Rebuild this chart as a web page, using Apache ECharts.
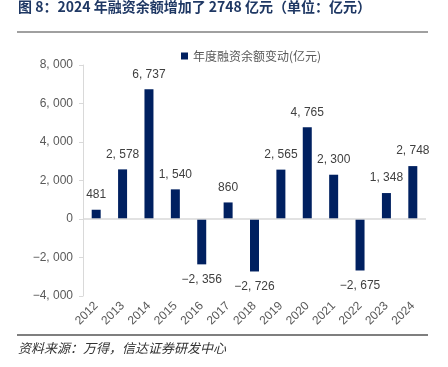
<!DOCTYPE html>
<html>
<head>
<meta charset="utf-8">
<script src="https://cdn.jsdelivr.net/npm/echarts@6/dist/echarts.min.js"></script>
<style>
html, body { margin: 0; padding: 0; background: #fff; }
#chart { width: 448px; height: 367px; }
</style>
</head>
<body>
<div id="chart"></div>
<script>
var years = ['2012', '2013', '2014', '2015', '2016', '2017', '2018', '2019', '2020', '2021', '2022', '2023', '2024'];
var changes = [481, 2578, 6737, 1540, -2356, 860, -2726, 2565, 4765, 2300, -2675, 1348, 2748];
var yTicks = [-4000, 8000, 2000];

function fmt(v) {
    var s = Math.abs(v).toString();
    if (s.length > 3) {
        s = s.slice(0, s.length - 3) + ', ' + s.slice(s.length - 3);
    }
    return (v < 0 ? '\u2212' : '') + s;
}

var chart = echarts.init(document.getElementById('chart'));
var font = '"Liberation Sans", "Noto Sans CJK SC", sans-serif';

option = {
    animation: false,
    textStyle: { fontFamily: font },
    grid: { left: 83, right: 22, top: 65, bottom: 71 },
    legend: {
        data: ['年度融资余额变动(亿元)'],
        left: 176,
        top: 45,
        icon: 'rect',
        itemWidth: 7,
        itemHeight: 7,
        itemGap: 4,
        textStyle: { color: '#595959', fontSize: 12, fontFamily: '"Noto Sans CJK SC", sans-serif' }
    },
    xAxis: {
        type: 'category',
        data: years,
        axisLine: { show: false, onZero: false },
        axisTick: { show: false },
        axisLabel: { rotate: 45, color: '#595959', fontSize: 12, margin: 8 }
    },
    yAxis: {
        type: 'value',
        min: yTicks[0],
        max: yTicks[1],
        interval: yTicks[2],
        axisLine: { show: true, lineStyle: { color: '#d9d9d9' } },
        axisTick: { show: true, length: 4, lineStyle: { color: '#d9d9d9' } },
        splitLine: { show: false },
        axisLabel: {
            color: '#595959', fontSize: 12, margin: 10,
            formatter: function (v) { return fmt(v); }
        }
    },
    series: [
        {
            name: '年度融资余额变动(亿元)',
            type: 'bar',
            data: changes.map(function (v) {
                return {
                    value: v,
                    label: { position: v < 0 ? 'bottom' : 'top' }
                };
            }),
            barWidth: 9,
            itemStyle: { color: '#002060' },
            label: {
                show: true,
                distance: 9,
                color: '#404040',
                fontSize: 12,
                formatter: function (p) { return fmt(p.value); }
            },
            markLine: {
                silent: true,
                symbol: 'none',
                label: { show: false },
                lineStyle: { color: '#d9d9d9', type: 'solid', width: 1.5 },
                data: [{ yAxis: 0 }]
            }
        }
    ],
    graphic: [
        {
            type: 'text', left: 18, top: 0,
            style: {
                text: '图 8：2024 年融资余额增加了 2748 亿元（单位：亿元）',
                fill: '#1f3864',
                font: 'bold 14px "Noto Sans CJK SC", sans-serif'
            }
        },
        {
            type: 'line', shape: { x1: 17, y1: 32, x2: 428, y2: 32 },
            style: { stroke: '#a0a0a0', lineWidth: 2 }
        },
        {
            type: 'line', shape: { x1: 17, y1: 335, x2: 428, y2: 335 },
            style: { stroke: '#555555', lineWidth: 1.5 }
        },
        {
            type: 'text', left: 18, top: 342,
            style: {
                text: '资料来源：万得，信达证券研发中心',
                fill: '#333333',
                font: 'italic 13px "Noto Sans CJK SC", sans-serif'
            }
        }
    ]
};
chart.setOption(option);
</script>
</body>
</html>
